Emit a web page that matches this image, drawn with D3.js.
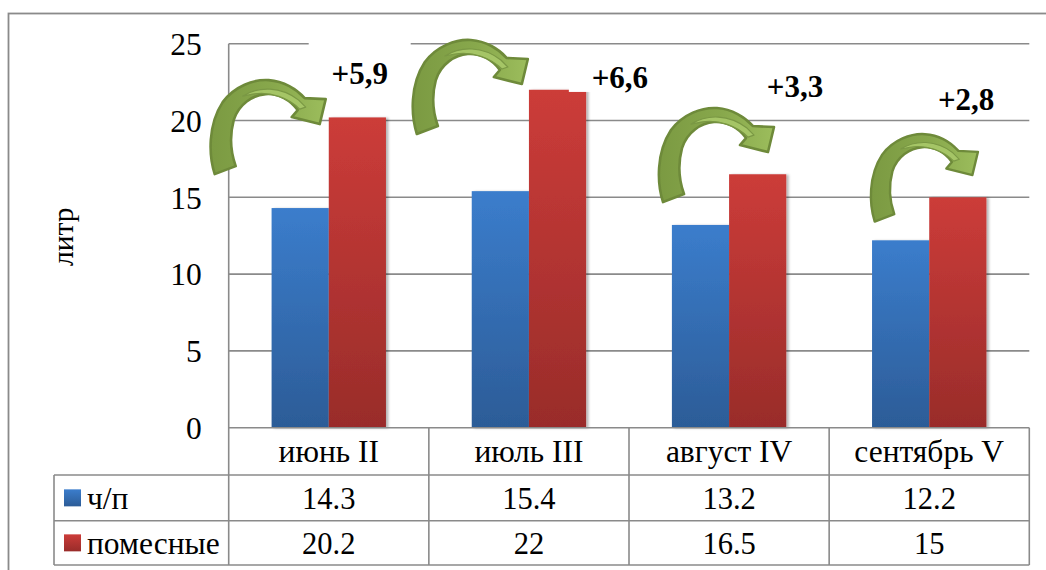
<!DOCTYPE html>
<html>
<head>
<meta charset="utf-8">
<script src="https://cdn.jsdelivr.net/npm/d3@7/dist/d3.min.js"></script>
<style>
  html, body { margin: 0; padding: 0; background: #fff; }
  svg { display: block; }
</style>
</head>
<body>
<svg id="chart" width="1046" height="570"></svg>
<script>
// ---- data ----
const categories = ["июнь II", "июль III", "август IV", "сентябрь V"];
const seriesNames = ["ч/п", "помесные"];
const chpValues = [14.3, 15.4, 13.2, 12.2];
const crossValues = [20.2, 22, 16.5, 15];
const yTicks = [0, 5, 10, 15, 20, 25];
const yTitle = "литр";

// ---- layout ----
const W = 1046, H = 570;
const FONT = '"Liberation Serif", "Times New Roman", "DejaVu Serif", serif';
const plot = { left: 228.7, right: 1029.3, top: 43.7, bottom: 427.7 };
const tableLeft = 54;
const rowEdges = [427.7, 475, 520.7, 565];   // header row, ч/п row, помесные row

// where each increase arrow / label sits: x offset from the category start (px), y in litres
const arrowPlace = [
  { dx: -20, top: 22.63, k: 1 },
  { dx: -18, top: 25.24, k: 1 },
  { dx: 28, top: 20.81, k: 1 },
  { dx: 40, top: 19.11, k: 0.93 }
];
const labelPlace = [
  { dx: 131, base: 22.38 },
  { dx: 191, base: 22.12 },
  { dx: 166, base: 21.53 },
  { dx: 137, base: 20.68 }
];

const svg = d3.select("#chart").attr("font-family", FONT);
const defs = svg.append("defs");

function txt(sel, size, weight) {
  return sel.style("font-family", FONT).style("font-size", size + "px")
    .style("font-weight", weight || "normal").attr("fill", "#000");
}

function vGrad(id, top, bottom) {
  const g = defs.append("linearGradient").attr("id", id)
    .attr("x1", 0).attr("y1", 0).attr("x2", 0).attr("y2", 1);
  g.append("stop").attr("offset", "0%").attr("stop-color", top);
  g.append("stop").attr("offset", "100%").attr("stop-color", bottom);
}
vGrad("gBlue", "#3b7dcc", "#2c5c97");
vGrad("gRed", "#cc3c39", "#992c2a");
const fills = ["url(#gBlue)", "url(#gRed)"];

const ag = defs.append("linearGradient").attr("id", "gArrow")
  .attr("x1", 0).attr("y1", 0).attr("x2", 1).attr("y2", 0);
ag.append("stop").attr("offset", "0%").attr("stop-color", "#7b9a42");
ag.append("stop").attr("offset", "55%").attr("stop-color", "#88a84c");
ag.append("stop").attr("offset", "100%").attr("stop-color", "#9cbd5c");

const sh = defs.append("filter").attr("id", "barShadow")
  .attr("x", "-20%").attr("y", "-5%").attr("width", "150%").attr("height", "110%");
sh.append("feDropShadow").attr("dx", 2.5).attr("dy", 0.5)
  .attr("stdDeviation", 1.3).attr("flood-color", "#000").attr("flood-opacity", 0.28);

// outer chart frame
svg.append("rect").attr("x", 8.5).attr("y", 13.5)
  .attr("width", W + 20).attr("height", H + 20)
  .attr("fill", "none").attr("stroke", "#8a8a8a").attr("stroke-width", 1.8);

// scales
const x = d3.scaleBand().domain(categories).range([plot.left, plot.right]).padding(0);
const xs = d3.scaleBand().domain(seriesNames).range([0, x.bandwidth()])
  .paddingInner(0).paddingOuter(0.75);
const y = d3.scaleLinear().domain([0, 25]).range([plot.bottom, plot.top]);

const gridColor = "#8a8a8a";

// horizontal gridlines
svg.append("g").selectAll("line").data(yTicks.filter(t => t > 0)).join("line")
  .attr("x1", plot.left).attr("x2", plot.right)
  .attr("y1", d => y(d)).attr("y2", d => y(d))
  .attr("stroke", gridColor).attr("stroke-width", 1.6);

// y tick labels via axis
const yAxis = svg.append("g").attr("transform", `translate(${plot.left},0)`)
  .call(d3.axisLeft(y).tickValues(yTicks).tickSize(0).tickPadding(27));
yAxis.select(".domain").remove();
txt(yAxis.selectAll("text"), 31.5).attr("dy", "0.34em");

// y title
txt(svg.append("text")
  .attr("transform", `translate(73,${(plot.top + plot.bottom) / 2 + 1}) rotate(-90)`)
  .attr("text-anchor", "middle"), 29.5).text(yTitle);

// bars
const seriesData = [chpValues, crossValues];
const barG = svg.append("g").attr("filter", "url(#barShadow)");
seriesData.forEach((vals, si) => {
  barG.append("g").selectAll("rect").data(vals).join("rect")
    .attr("x", (d, i) => x(categories[i]) + xs(seriesNames[si]))
    .attr("width", xs.bandwidth())
    .attr("y", d => y(d))
    .attr("height", d => y(0) - y(d))
    .attr("fill", fills[si]);
});

// data table
const tbl = svg.append("g").attr("stroke", gridColor).attr("stroke-width", 1.6);
tbl.append("line").attr("x1", plot.left).attr("x2", plot.left)
  .attr("y1", plot.top).attr("y2", rowEdges[3]);
tbl.append("line").attr("x1", plot.left).attr("x2", plot.right)
  .attr("y1", rowEdges[0]).attr("y2", rowEdges[0]);
[1, 2, 3].forEach(r => {
  tbl.append("line").attr("x1", tableLeft).attr("x2", plot.right)
    .attr("y1", rowEdges[r]).attr("y2", rowEdges[r]);
});
tbl.append("line").attr("x1", tableLeft).attr("x2", tableLeft)
  .attr("y1", rowEdges[1]).attr("y2", rowEdges[3]);
categories.forEach(c => {
  tbl.append("line").attr("x1", x(c) + x.bandwidth()).attr("x2", x(c) + x.bandwidth())
    .attr("y1", rowEdges[0]).attr("y2", rowEdges[3]);
});

// category labels
txt(svg.append("g").selectAll("text").data(categories).join("text")
  .attr("x", d => x(d) + x.bandwidth() / 2)
  .attr("y", (rowEdges[0] + rowEdges[1]) / 2)
  .attr("dy", "0.35em").attr("text-anchor", "middle"), 31.5).text(d => d);

// value rows with legend keys
seriesData.forEach((vals, si) => {
  const cy = (rowEdges[si + 1] + rowEdges[si + 2]) / 2;
  txt(svg.append("g").selectAll("text").data(vals).join("text")
    .attr("x", (d, i) => x(categories[i]) + x.bandwidth() / 2)
    .attr("y", cy).attr("dy", "0.36em").attr("text-anchor", "middle"), 30.5)
    .text(d => String(d));
  svg.append("rect").attr("x", 64).attr("y", cy - 8.5)
    .attr("width", 17).attr("height", 17).attr("fill", fills[si]);
  txt(svg.append("text").attr("x", 87).attr("y", cy).attr("dy", "0.36em"), 31.5)
    .text(seriesNames[si]);
});

// increase labels (white text boxes behind them)
const fmt = v => "+" + d3.format(".1f")(v).replace(".", ",");
const diffs = crossValues.map((v, i) => v - chpValues[i]);
const annG = svg.append("g");
diffs.forEach((dv, i) => {
  const p = labelPlace[i];
  const cx = x(categories[i]) + p.dx;
  const by = y(p.base);
  annG.append("rect").attr("x", cx - 51).attr("y", by - 42)
    .attr("width", 102).attr("height", 46).attr("fill", "#fff");
  txt(annG.append("text").attr("x", cx).attr("y", by).attr("text-anchor", "middle"), 31, "bold")
    .text(fmt(dv));
});

// curved green arrows (box 116 x 94 in local units)
const arrowPath =
  "M6,94 C0,75 -1,45 14,22 C26,6 45,-1 60,0 C75,1 88,9 96,18 " +
  "L117,19 L111,44 L83,37 L89,30 " +
  "C82,20 70,13 57,14 C44,15 30,24 25,40 C21,55 22,72 27,86 Z";
const innerFace =
  "M34,16 C50,6 72,6 90,20 L97,27 L91,29 C80,18 62,11 44,14 Z";
diffs.forEach((dv, i) => {
  const p = arrowPlace[i];
  const g = svg.append("g")
    .attr("transform", `translate(${x(categories[i]) + p.dx},${y(p.top)}) scale(${p.k})`);
  g.append("path").attr("d", arrowPath).attr("fill", "url(#gArrow)")
    .attr("stroke", "#6e8a3a").attr("stroke-width", 2.6).attr("stroke-linejoin", "round");
  g.append("path").attr("d", innerFace).attr("fill", "#a5c566")
    .attr("stroke", "#7a9844").attr("stroke-width", 1.2).attr("stroke-linejoin", "round");
});
</script>
</body>
</html>
